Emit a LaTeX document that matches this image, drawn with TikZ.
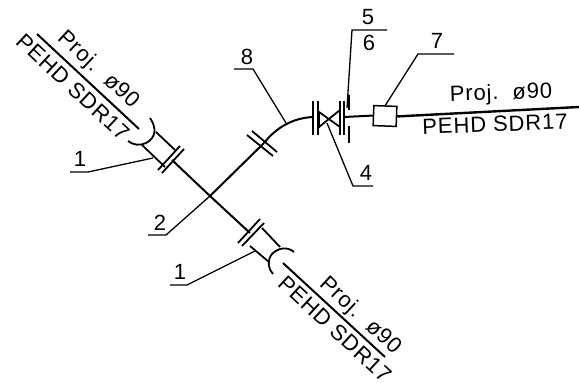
\documentclass[tikz,border=0pt]{standalone}
\usepackage{fontspec}
\setmainfont{Liberation Sans}[LetterSpace=4]

\tikzset{
  cadtext/.style={inner sep=0pt,font=\fontsize{22}{22}\selectfont},
  pipe/.style={line width=2pt},
  leader/.style={line width=1.3pt},
  flange/.style={line width=1.8pt},
}

\begin{document}
\begin{tikzpicture}[x=1pt,y=-1pt]
\useasboundingbox (0,0) rectangle (579,383);
\fill[white] (0,0) rectangle (579,383);

\coordinate (J) at (210,196);
\coordinate (UL) at (172,160);
\coordinate (LR) at (250,233);
\coordinate (BR) at (264,143);
\coordinate (EL) at (313,117);
\coordinate (ER) at (344,117);
\coordinate (END) at (579,107);
\node[draw,line width=1.5pt,minimum width=23pt,minimum height=20pt,inner sep=0pt,rotate=-2] (box) at (385,116) {};

% pipes
\draw[pipe] (UL) -- (J) -- (LR);
\draw[pipe] (J) -- (BR);
\draw[pipe] (BR) .. controls (276,128) and (292,118) .. (EL);
\draw[pipe] (ER) -- (box.west);
\draw[line width=2.4pt] (box.east) -- (END);

% top left fitting
\coordinate (TLa) at (37,34);
\coordinate (TLb) at (139,129);
\draw[pipe] (TLa) -- (TLb);
\draw[flange] (158,170) -- (180,146);
\draw[flange] (162,173) -- (184,149);
\draw[flange] (156,132) -- (175,150);
\draw[flange] (142,145) -- (165,167);
\draw[flange] (150,118) .. controls (157,128) and (156,138) .. (146,143) .. controls (140,146) and (133,145) .. (128,141);

% bottom right fitting
\coordinate (BRa) at (283,263);
\coordinate (BRb) at (385,357);
\draw[pipe] (BRa) -- (BRb);
\draw[flange] (238,243) -- (260,219);
\draw[flange] (242,246) -- (264,223);
\draw[flange] (262,228) -- (280,247);
\draw[flange] (250,246) -- (269,262);
\draw[flange] (294,252) .. controls (287,246) and (278,248) .. (272,254) .. controls (267,260) and (268,269) .. (273,274);

% flange on branch
\draw[flange] (247,135) -- (273,156);
\draw[flange] (252,131) -- (277,152);

% valve
\draw[flange] (313,101) -- (313,135);
\draw[flange] (318,101) -- (318,135);
\draw[flange] (340,101) -- (340,135);
\draw[flange] (344,101) -- (344,135);
\draw[flange] (319,112) -- (340,127) -- (340,110) -- (319,127) -- cycle;
\draw[flange] (349,95) -- (349,110);
\draw[flange] (349,126) -- (349,143);

% leaders
\draw[leader] (70,172) -- (88,172) -- (153,158);
\draw[leader] (148,235) -- (166,235) -- (J);
\draw[leader] (170,285) -- (187,285) -- (255,251);
\draw[leader] (373,186) -- (353,186) -- (327,123);
\draw[leader] (387,30) -- (352,30) -- (347,108);
\draw[leader] (454,54) -- (418,54) -- (box.north);
\draw[leader] (234,69) -- (253,69) -- (286,123);

% numbers
\node[cadtext] (n1a) at (80,159) {1};
\node[cadtext] (n2) at (160,223) {2};
\node[cadtext] (n1b) at (180,272) {1};
\node[cadtext] (n4) at (366,173) {4};
\node[cadtext] (n5) at (368,17) {5};
\node[cadtext] (n6) at (369,43) {6};
\node[cadtext] (n7) at (437,41) {7};
\node[cadtext] (n8) at (247,57) {8};

% pipe texts
\node[cadtext] (t1) at (501,94) [rotate=2] {Proj.\ \ ø90};
\node[cadtext] (t2) at (495,124) [rotate=2] {PEHD SDR17};
\node[cadtext] (t3) at (98,70) [rotate=-43] {Proj.\ \ ø90};
\node[cadtext] (t4) at (73,87) [rotate=-43] {PEHD SDR17};
\node[cadtext] (t5) at (360,316) [rotate=-43] {Proj.\ \ ø90};
\node[cadtext] (t6) at (335,329) [rotate=-43] {PEHD SDR17};
\end{tikzpicture}
\end{document}
